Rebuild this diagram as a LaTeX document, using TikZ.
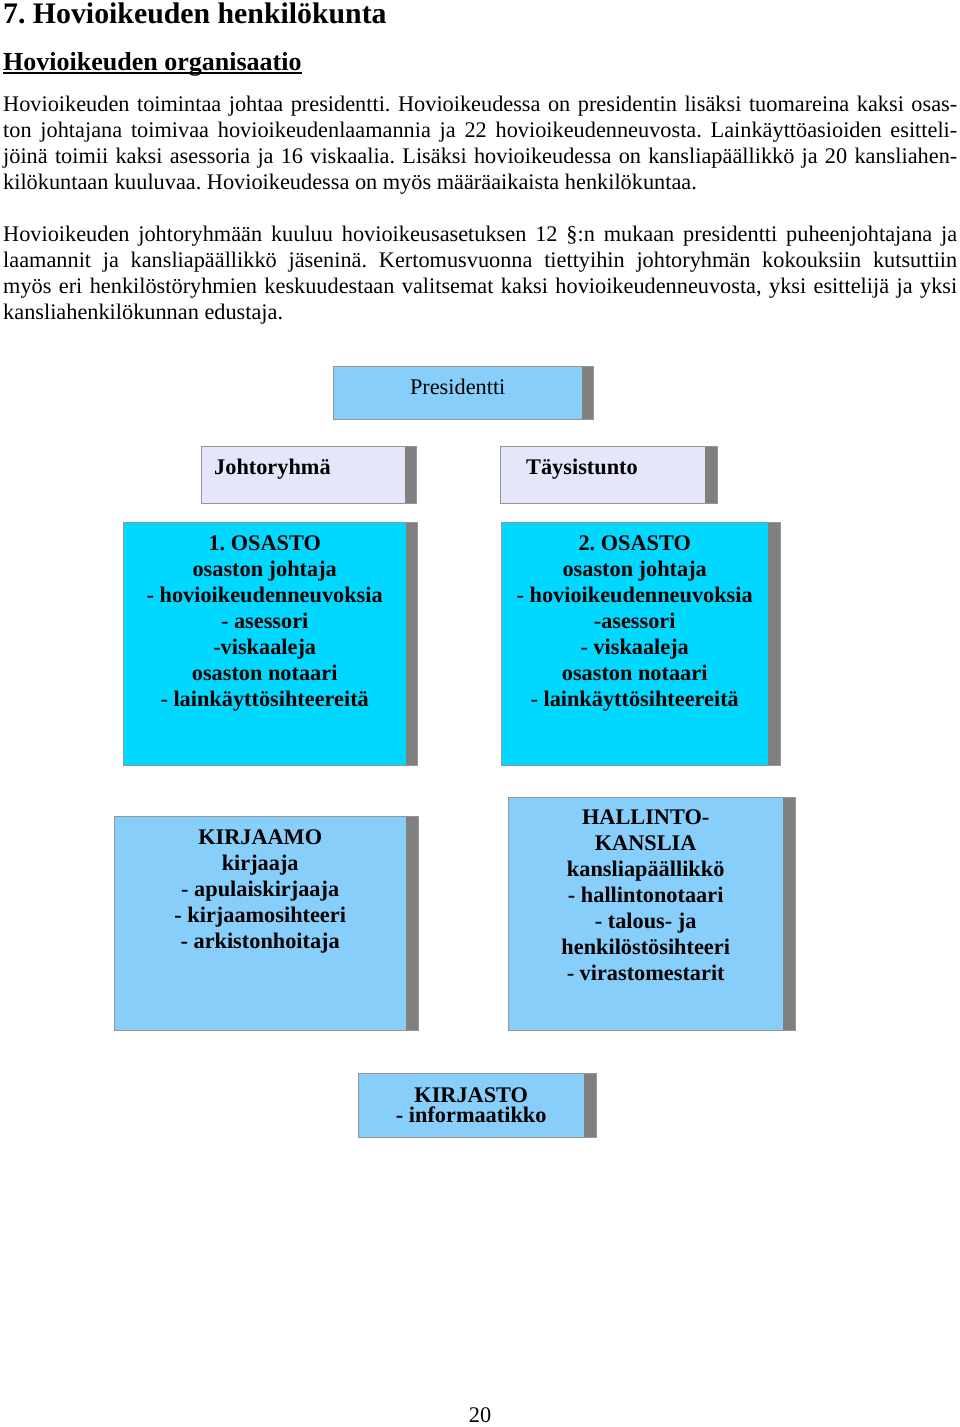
\documentclass[tikz,border=0pt]{standalone}
\usepackage{fontspec}
\setmainfont{Liberation Serif}
\frenchspacing

\definecolor{presblue}{RGB}{135,206,250}
\definecolor{osastocyan}{RGB}{0,216,255}
\definecolor{ryhmalila}{RGB}{230,230,250}
\definecolor{varjoharmaa}{RGB}{128,128,128}
\definecolor{reunaharmaa}{RGB}{150,150,150}

\newcommand{\jline}[1]{\makebox[954pt][s]{#1}}

\tikzset{
  teksti/.style={font=\fontsize{22.3}{26}\selectfont, inner sep=0pt, anchor=base west},
  laatikko/.style={inner sep=0pt, anchor=north west},
  laatikkoteksti/.style={font=\fontsize{22.3}{26}\selectfont\bfseries, inner sep=0pt, anchor=north, align=center},
  varjo/.style={fill=varjoharmaa},
  reunaviiva/.style={draw=reunaharmaa, line width=0.8pt}
}

\begin{document}
\begin{tikzpicture}[x=1pt,y=-1pt]
    \useasboundingbox (0,0) rectangle (960,1427);

    % Otsikot
    \node[teksti, font=\fontsize{29.8}{34}\selectfont\bfseries] (otsikko) at (3,23) {7. Hovioikeuden henkilökunta};
    \node[teksti, font=\fontsize{26}{30}\selectfont\bfseries] (alaotsikko) at (3,70.6) {Hovioikeuden organisaatio};
    \draw[line width=1.6pt] ([yshift=-2.5pt]alaotsikko.base west) -- ([yshift=-2.5pt]alaotsikko.base east);

    % Leipateksti
    \foreach \txt [count=\i] in {
        {\jline{Hovioikeuden toimintaa johtaa presidentti. Hovioikeudessa on presidentin lisäksi tuomareina kaksi osas-}},
        {\jline{ton johtajana toimivaa hovioikeudenlaamannia ja 22 hovioikeudenneuvosta. Lainkäyttöasioiden esitteli-}},
        {\jline{jöinä toimii kaksi asessoria ja 16 viskaalia. Lisäksi hovioikeudessa on kansliapäällikkö ja 20 kansliahen-}},
        {kilökuntaan kuuluvaa. Hovioikeudessa on myös määräaikaista henkilökuntaa.}} {
        \node[teksti] (kpl1-\i) at (3,{111.5+26*(\i-1)}) {\txt};
    }
    \foreach \txt [count=\i] in {
        {\jline{Hovioikeuden johtoryhmään kuuluu hovioikeusasetuksen 12 §:n mukaan presidentti puheenjohtajana ja}},
        {\jline{laamannit ja kansliapäällikkö jäseninä. Kertomusvuonna tiettyihin johtoryhmän kokouksiin kutsuttiin}},
        {\jline{myös eri henkilöstöryhmien keskuudestaan valitsemat kaksi hovioikeudenneuvosta, yksi esittelijä ja yksi}},
        {kansliahenkilökunnan edustaja.}} {
        \node[teksti] (kpl2-\i) at (3,{241+26*(\i-1)}) {\txt};
    }

    % Laatikot
    \node[laatikko, fill=presblue,   minimum width=249pt, minimum height=53pt]  (presidentti) at (333,366) {};
    \node[laatikko, fill=ryhmalila,  minimum width=204pt, minimum height=57pt]  (johtoryhma)  at (201,446) {};
    \node[laatikko, fill=ryhmalila,  minimum width=205pt, minimum height=57pt]  (taysistunto) at (500,446) {};
    \node[laatikko, fill=osastocyan, minimum width=283pt, minimum height=243pt] (osasto1)     at (123,522) {};
    \node[laatikko, fill=osastocyan, minimum width=267pt, minimum height=243pt] (osasto2)     at (501,522) {};
    \node[laatikko, fill=presblue,   minimum width=292pt, minimum height=214pt] (kirjaamo)    at (114,816) {};
    \node[laatikko, fill=presblue,   minimum width=275pt, minimum height=233pt] (hallinto)    at (508,797) {};
    \node[laatikko, fill=presblue,   minimum width=226pt, minimum height=64pt]  (kirjasto)    at (358,1073) {};

    % Varjopalkit ja reunat
    \foreach \b/\w in {presidentti/11, johtoryhma/11, taysistunto/12, osasto1/11,
                       osasto2/12, kirjaamo/12, hallinto/12, kirjasto/12} {
        \fill[varjo] (\b.north east) rectangle ([xshift=\w pt]\b.south east);
        \draw[reunaviiva] (\b.north west) rectangle ([xshift=\w pt]\b.south east);
    }

    % Laatikoiden tekstit
    \node[laatikkoteksti, font=\fontsize{22.3}{26}\selectfont] (presidentti-t) at ([yshift=-13pt]presidentti.north) {Presidentti};
    \node[laatikkoteksti, anchor=north west] (johtoryhma-t)  at ([xshift=13pt,yshift=-13pt]johtoryhma.north west) {Johtoryhmä};
    \node[laatikkoteksti, anchor=north west] (taysistunto-t) at ([xshift=26pt,yshift=-13pt]taysistunto.north west) {Täysistunto};
    \node[laatikkoteksti] (osasto1-t) at ([yshift=-14pt]osasto1.north)
        {1. OSASTO\\osaston johtaja\\- hovioikeudenneuvoksia\\- asessori\\-viskaaleja\\osaston notaari\\- lainkäyttösihteereitä};
    \node[laatikkoteksti] (osasto2-t) at ([yshift=-14pt]osasto2.north)
        {2. OSASTO\\osaston johtaja\\- hovioikeudenneuvoksia\\-asessori\\- viskaaleja\\osaston notaari\\- lainkäyttösihteereitä};
    \node[laatikkoteksti] (kirjaamo-t) at ([yshift=-14pt]kirjaamo.north)
        {KIRJAAMO\\kirjaaja\\- apulaiskirjaaja\\- kirjaamosihteeri\\- arkistonhoitaja};
    \node[laatikkoteksti] (hallinto-t) at ([yshift=-13pt]hallinto.north)
        {HALLINTO-\\KANSLIA\\kansliapäällikkö\\- hallintonotaari\\- talous- ja\\henkilöstösihteeri\\- virastomestarit};
    \node[laatikkoteksti, font=\fontsize{22.3}{20}\selectfont\bfseries] (kirjasto-t) at ([yshift=-15pt]kirjasto.north)
        {KIRJASTO\\- informaatikko};

    % Sivunumero
    \node[teksti, anchor=base] (sivunumero) at (480,1422.5) {20};
\end{tikzpicture}
\end{document}
